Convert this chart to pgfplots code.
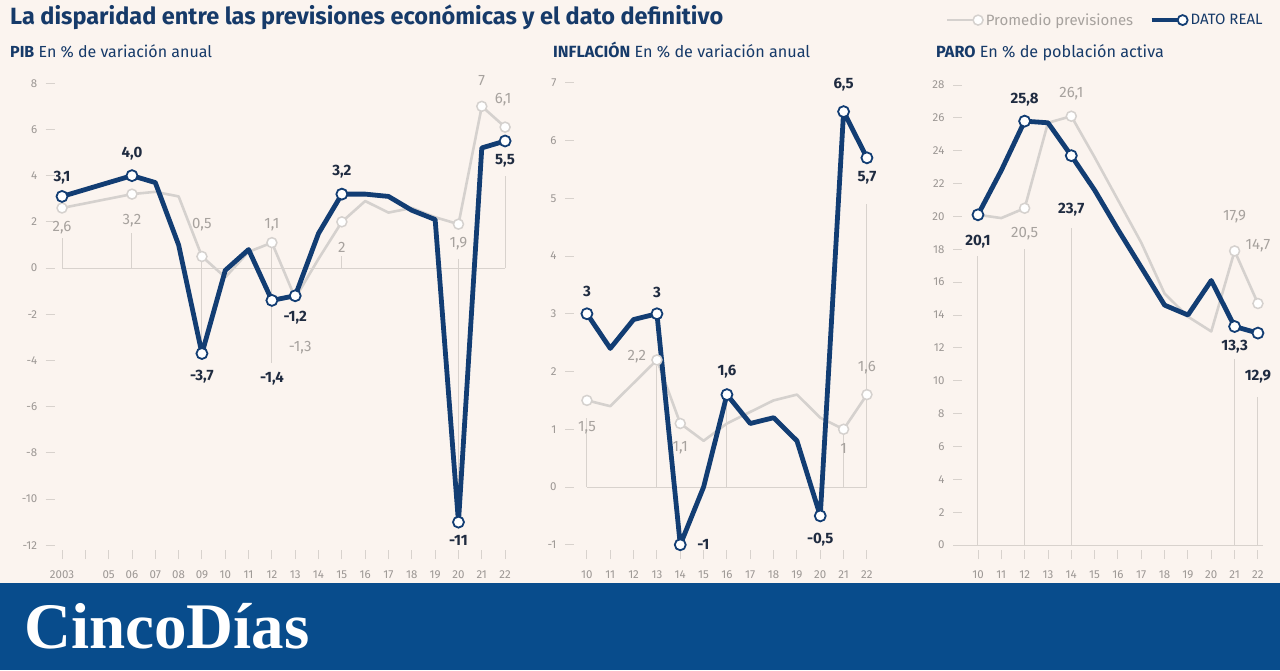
\documentclass[border=0pt]{standalone}
\usepackage{pgfplots}
\usepackage{pgfplotstable}
\pgfplotsset{compat=1.18}
\usepackage{fontspec}
\setmainfont{Fira Sans}
\newfontfamily\logofont{Liberation Serif}

\definecolor{bg}{HTML}{FBF4EF}
\definecolor{navy}{HTML}{123D73}
\definecolor{greyline}{HTML}{D5D1CE}
\definecolor{darklab}{HTML}{1F2B40}
\definecolor{greylab}{HTML}{A7A29E}
\definecolor{ticklab}{HTML}{9C9794}
\definecolor{guide}{HTML}{D8D2CD}
\definecolor{titlec}{HTML}{163A69}
\definecolor{banner}{HTML}{084C8C}

\pgfplotstableread{
year real prev
2003 3.1 2.6
2004 3.4 2.8
2005 3.7 3.0
2006 4.0 3.2
2007 3.7 3.3
2008 1.0 3.1
2009 -3.7 0.5
2010 -0.1 -0.4
2011 0.8 0.7
2012 -1.4 1.1
2013 -1.2 -1.3
2014 1.5 0.4
2015 3.2 2.0
2016 3.2 2.9
2017 3.1 2.4
2018 2.5 2.6
2019 2.1 2.2
2020 -11 1.9
2021 5.2 7.0
2022 5.5 6.1
}\pib

\pgfplotstableread{
year real prev
2010 3.0 1.5
2011 2.4 1.4
2012 2.9 1.8
2013 3.0 2.2
2014 -1.0 1.1
2015 0.0 0.8
2016 1.6 1.1
2017 1.1 1.3
2018 1.2 1.5
2019 0.8 1.6
2020 -0.5 1.2
2021 6.5 1.0
2022 5.7 1.6
}\ipc

\pgfplotstableread{
year real prev
2010 20.1 20.1
2011 22.8 19.9
2012 25.8 20.5
2013 25.7 25.7
2014 23.7 26.1
2015 21.6 23.6
2016 19.2 21.0
2017 16.9 18.4
2018 14.6 15.3
2019 14.0 13.9
2020 16.1 13.0
2021 13.3 17.9
2022 12.9 14.7
}\paro

\tikzset{
  realline/.style={navy, line width=4.8pt, line join=round, line cap=round},
  prevline/.style={greyline, line width=2.6pt, line join=round, line cap=round},
  realmark/.style={only marks, mark=*, mark size=5.5pt, mark options={fill=white, draw=navy, line width=1.8pt}},
  prevmark/.style={only marks, mark=*, mark size=5pt, mark options={fill=white, draw=greyline, line width=1.5pt}},
  guideline/.style={guide, line width=1pt},
  dlab/.style={font=\fontsize{15}{15}\selectfont\bfseries, text=darklab, inner sep=0pt},
  glab/.style={font=\fontsize{15}{15}\selectfont, text=greylab, inner sep=0pt},
}

\pgfplotsset{
  base/.style={scale only axis, clip=false, axis line style={draw=none},
    tick align=inside, xtick pos=bottom, ytick pos=left,
    major tick length=9pt, tick style={draw=guide, line width=0.9pt},
    ticklabel style={font=\fontsize{11.5}{11.5}\selectfont, text=ticklab},
    /pgf/number format/assume math mode=true,
    xticklabel style={yshift=-8pt},
    yticklabel style={xshift=-5pt},
    anchor=south west,
  },
}

\begin{document}
\begin{tikzpicture}
\useasboundingbox (0pt,0pt) rectangle (1280pt,670pt);
\fill[bg] (0pt,0pt) rectangle (1280pt,670pt);

\node[anchor=base west, inner sep=0pt, text=titlec, font=\fontsize{23.5}{23.5}\selectfont\bfseries] at (10pt,645pt) {La disparidad entre las previsiones económicas y el dato definitivo};
\node[anchor=base west, inner sep=0pt, text=titlec, font=\fontsize{16}{16}\selectfont] at (10pt,612pt) {\textbf{PIB} En \% de variación anual};
\node[anchor=base west, inner sep=0pt, text=titlec, font=\fontsize{16.2}{16.2}\selectfont] at (553pt,612pt) {\textbf{INFLACIÓN} En \% de variación anual};
\node[anchor=base west, inner sep=0pt, text=titlec, font=\fontsize{16.2}{16.2}\selectfont] at (936pt,612pt) {\textbf{PARO} En \% de población activa};

% ---------------- PIB ----------------
\begin{axis}[base, at={(45.7pt,110.9pt)}, width=473.4pt, height=487.4pt,
  xmin=2002.3, xmax=2022.6, ymin=-12.6, ymax=8.5,
  xtick={2003,...,2022},
  xticklabels={2003,,05,06,07,08,09,10,11,12,13,14,15,16,17,18,19,20,21,22},
  ytick={-12,-10,...,8},
  yticklabels={-12,-10,-8,-6,-4,-2,0,2,4,6,8}]
\addplot[guideline] coordinates {(2003,0) (2022,0)};
\addplot[guideline] coordinates {(2003,0) (2003,1.3)};
\addplot[guideline] coordinates {(2006,0) (2006,1.5)};
\addplot[guideline] coordinates {(2009,0.3) (2009,-3.5)};
\addplot[guideline] coordinates {(2012,1.0) (2012,-4.1)};
\addplot[guideline] coordinates {(2015,0) (2015,0.5)};
\addplot[guideline] coordinates {(2020,0.4) (2020,-10.7)};
\addplot[guideline] coordinates {(2022,0) (2022,4.0)};
\addplot[prevline] table[x=year,y=prev] {\pib};
\addplot[prevmark] coordinates {(2003,2.6) (2006,3.2) (2009,0.5) (2012,1.1) (2015,2.0) (2020,1.9) (2021,7.0) (2022,6.1)};
\addplot[realline] table[x=year,y=real] {\pib};
\addplot[realmark] coordinates {(2003,3.1) (2006,4.0) (2009,-3.7) (2012,-1.4) (2013,-1.2) (2015,3.2) (2020,-11) (2022,5.5)};
\node[dlab, yshift=19pt] at (axis cs:2003,3.1) {3,1};
\node[dlab, yshift=22pt] at (axis cs:2006,4.0) {4,0};
\node[dlab, yshift=-23pt] at (axis cs:2009,-3.7) {-3,7};
\node[dlab, yshift=-78pt] at (axis cs:2012,-1.4) {-1,4};
\node[dlab, yshift=-22pt] at (axis cs:2013,-1.2) {-1,2};
\node[dlab, yshift=22pt] at (axis cs:2015,3.2) {3,2};
\node[dlab, yshift=-18pt] at (axis cs:2020,-11) {-11};
\node[dlab, yshift=-20pt] at (axis cs:2022,5.5) {5,5};
\node[glab, yshift=-20pt] at (axis cs:2003,2.6) {2,6};
\node[glab, yshift=-27pt] at (axis cs:2006,3.2) {3,2};
\node[glab, yshift=32pt] at (axis cs:2009,0.5) {0,5};
\node[glab, yshift=18pt] at (axis cs:2012,1.1) {1,1};
\node[glab, xshift=5pt, yshift=-50pt] at (axis cs:2013,-1.3) {-1,3};
\node[glab, yshift=-26pt] at (axis cs:2015,2.0) {2};
\node[glab, yshift=-19pt] at (axis cs:2020,1.9) {1,9};
\node[glab, yshift=26pt] at (axis cs:2021,7.0) {7};
\node[glab, xshift=-2pt, yshift=27pt] at (axis cs:2022,6.1) {6,1};
\end{axis}

% ---------------- INFLACION ----------------
\begin{axis}[base, at={(565pt,110.8pt)}, width=313.6pt, height=490.9pt,
  xmin=2009.06, xmax=2022.5, ymin=-1.25, ymax=7.25,
  xtick={2010,...,2022},
  xticklabels={10,11,12,13,14,15,16,17,18,19,20,21,22},
  ytick={-1,0,...,7},
  yticklabels={-1,0,1,2,3,4,5,6,7}]
\addplot[guideline] coordinates {(2010,0) (2022,0)};
\addplot[guideline] coordinates {(2010,0) (2010,1.2)};
\addplot[guideline] coordinates {(2013,0) (2013,2.1)};
\addplot[guideline] coordinates {(2016,0) (2016,1.5)};
\addplot[guideline] coordinates {(2021,0) (2021,0.9)};
\addplot[guideline] coordinates {(2022,0) (2022,4.9)};
\addplot[prevline] table[x=year,y=prev] {\ipc};
\addplot[prevmark] coordinates {(2010,1.5) (2013,2.2) (2014,1.1) (2021,1.0) (2022,1.6)};
\addplot[realline] table[x=year,y=real] {\ipc};
\addplot[realmark] coordinates {(2010,3.0) (2013,3.0) (2014,-1.0) (2016,1.6) (2020,-0.5) (2021,6.5) (2022,5.7)};
\node[dlab, yshift=22pt] at (axis cs:2010,3.0) {3};
\node[dlab, yshift=21pt] at (axis cs:2013,3.0) {3};
\node[dlab, xshift=23pt] at (axis cs:2014,-1.0) {-1};
\node[dlab, yshift=23pt] at (axis cs:2016,1.6) {1,6};
\node[dlab, yshift=-24pt] at (axis cs:2020,-0.5) {-0,5};
\node[dlab, yshift=27pt] at (axis cs:2021,6.5) {6,5};
\node[dlab, yshift=-20pt] at (axis cs:2022,5.7) {5,7};
\node[glab, yshift=-27pt] at (axis cs:2010,1.5) {1,5};
\node[glab, xshift=-20pt, yshift=3pt] at (axis cs:2013,2.2) {2,2};
\node[glab, yshift=-24pt] at (axis cs:2014,1.1) {1,1};
\node[glab, yshift=-19pt] at (axis cs:2021,1.0) {1};
\node[glab, yshift=27pt] at (axis cs:2022,1.6) {1,6};
\end{axis}

% ---------------- PARO ----------------
\begin{axis}[base, at={(953pt,111pt)}, width=316.6pt, height=485.5pt,
  xmin=2008.93, xmax=2022.5, ymin=-0.85, ymax=28.7,
  xtick={2010,...,2022},
  xticklabels={10,11,12,13,14,15,16,17,18,19,20,21,22},
  ytick={0,2,...,28},
  yticklabels={0,2,4,6,8,10,12,14,16,18,20,22,24,26,28},
  legend style={at={(0.985,1.110)}, anchor=east, draw=none, fill=none,
    legend columns=2, font=\fontsize{15}{15}\selectfont, inner sep=0pt,
    /tikz/every even column/.append style={column sep=14pt}},
  ]
\addlegendimage{legend image code/.code={\draw[greyline, line width=2.6pt] (0pt,0pt) -- (26pt,0pt); \draw[greyline, line width=1.5pt, fill=white] (31pt,0pt) circle (5pt);}}
\addlegendentry{\textcolor{greylab}{Promedio previsiones}}
\addlegendimage{legend image code/.code={\draw[navy, line width=4.8pt] (0pt,0pt) -- (26pt,0pt); \draw[navy, line width=1.8pt, fill=white] (31pt,0pt) circle (5pt);}}
\addlegendentry{\textcolor{titlec}{DATO REAL}}
\addplot[guideline, forget plot] coordinates {(2009.2,0) (2022.2,0)};
\addplot[guideline, forget plot] coordinates {(2010,0) (2010,17.6)};
\addplot[guideline, forget plot] coordinates {(2012,0) (2012,18.0)};
\addplot[guideline, forget plot] coordinates {(2014,0) (2014,19.3)};
\addplot[guideline, forget plot] coordinates {(2021,0) (2021,11.3)};
\addplot[guideline, forget plot] coordinates {(2022,0) (2022,9.0)};
\addplot[prevline, forget plot] table[x=year,y=prev] {\paro};
\addplot[prevmark, forget plot] coordinates {(2012,20.5) (2014,26.1) (2021,17.9) (2022,14.7)};
\addplot[realline, forget plot] table[x=year,y=real] {\paro};
\addplot[realmark, forget plot] coordinates {(2010,20.1) (2012,25.8) (2014,23.7) (2021,13.3) (2022,12.9)};
\node[dlab, yshift=-27pt] at (axis cs:2010,20.1) {20,1};
\node[dlab, yshift=21pt] at (axis cs:2012,25.8) {25,8};
\node[dlab, yshift=-54pt] at (axis cs:2014,23.7) {23,7};
\node[dlab, yshift=-20pt] at (axis cs:2021,13.3) {13,3};
\node[dlab, yshift=-44pt] at (axis cs:2022,12.9) {12,9};
\node[glab, yshift=-25pt] at (axis cs:2012,20.5) {20,5};
\node[glab, yshift=23pt] at (axis cs:2014,26.1) {26,1};
\node[glab, yshift=34pt] at (axis cs:2021,17.9) {17,9};
\node[glab, yshift=58pt] at (axis cs:2022,14.7) {14,7};
\end{axis}

\fill[banner] (0pt,0pt) rectangle (1280pt,87pt);
\node[anchor=base west, inner sep=0pt, text=white, font=\logofont\bfseries\fontsize{65}{65}\selectfont] at (24pt,22pt) {CincoDías};
\end{tikzpicture}
\end{document}
